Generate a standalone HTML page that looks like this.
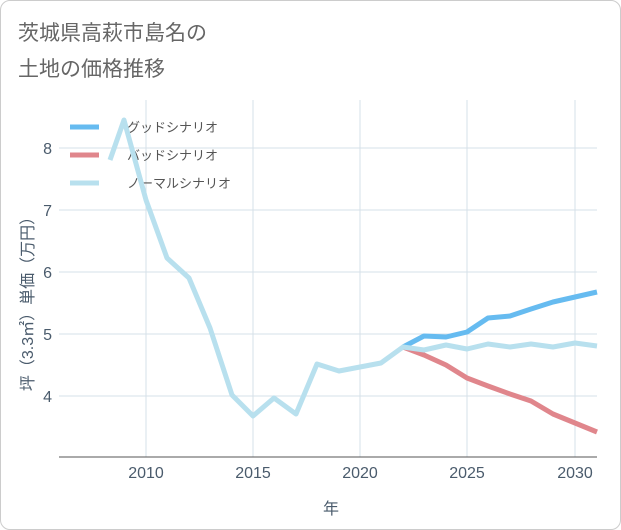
<!DOCTYPE html>
<html><head><meta charset="utf-8"><style>
body{margin:0;background:#fff;}
.card{position:absolute;left:0;top:0;width:619px;height:528px;border:1px solid #ccc;border-radius:10px;background:#fff;}
text{font-family:"Liberation Sans","Noto Sans CJK JP",sans-serif;}
</style></head><body>
<div class="card"></div>
<svg width="621" height="530" style="position:absolute;left:0;top:0">
<text x="18" y="40" font-size="21" fill="#666">茨城県高萩市島名の</text>
<text x="18" y="76" font-size="21" fill="#666">土地の価格推移</text>
<g stroke="#d5e0e8" stroke-width="1">
<line x1="146" y1="100" x2="146" y2="457"/><line x1="253" y1="100" x2="253" y2="457"/>
<line x1="360" y1="100" x2="360" y2="457"/><line x1="467" y1="100" x2="467" y2="457"/>
<line x1="575" y1="100" x2="575" y2="457"/>
<line x1="59" y1="148" x2="597" y2="148"/><line x1="59" y1="210" x2="597" y2="210"/>
<line x1="59" y1="272" x2="597" y2="272"/><line x1="59" y1="334" x2="597" y2="334"/>
<line x1="59" y1="396" x2="597" y2="396"/>
</g>
<line x1="59" y1="457" x2="597" y2="457" stroke="#555" stroke-width="1"/>
<g font-size="16" fill="#4a5b6c" text-anchor="middle">
<text x="146" y="478">2010</text><text x="253" y="478">2015</text><text x="360" y="478">2020</text><text x="467" y="478">2025</text><text x="575" y="478">2030</text>
<text x="331" y="514">年</text>
</g>
<g font-size="16" fill="#4a5b6c" text-anchor="end">
<text x="52" y="154">8</text><text x="52" y="216">7</text><text x="52" y="278">6</text><text x="52" y="340">5</text><text x="52" y="402">4</text>
</g>
<text transform="translate(33,300) rotate(-90)" font-size="16" fill="#4a5b6c" text-anchor="middle">坪（3.3㎡）単価（万円）</text>
<g stroke-width="5">
<line x1="70" y1="127" x2="99" y2="127" stroke="#66bbf0"/>
<line x1="70" y1="155" x2="99" y2="155" stroke="#e0868c"/>
<line x1="70" y1="183" x2="99" y2="183" stroke="#b8e0ee"/>
</g>
<g font-size="13" fill="#555">
<text x="127" y="132">グッドシナリオ</text>
<text x="127" y="160">バッドシナリオ</text>
<text x="127" y="188">ノーマルシナリオ</text>
</g>
<g fill="none" stroke-width="5" stroke-linejoin="round">
<polyline stroke="#e0868c" points="403,347 424,355 446,365 467,378 488,386 510,394 531,401 553,414 575,423 597,432"/>
<polyline stroke="#66bbf0" points="403,347 424,336 446,337 467,332 488,318 510,316 531,309 553,302 575,297 597,292"/>
<polyline stroke="#b8e0ee" points="110,160 124,120 146,200 167,258 189,278 210,328 232,395 253,416 274,398 296,414 317,364 339,371 360,367 381,363 403,347 424,350 446,345 467,349 488,344 510,347 531,344 553,347 575,343 597,346"/>
</g>
</svg>
</body></html>
